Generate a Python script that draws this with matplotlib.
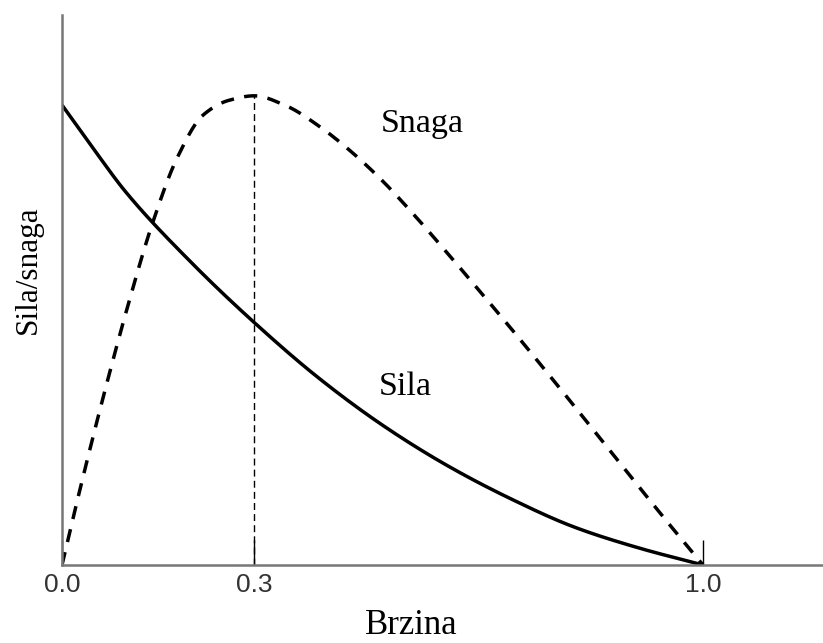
import matplotlib
matplotlib.use('Agg')
import matplotlib.pyplot as plt
import numpy as np

# brzina (v/vmax)
brzina = [0.0, 0.02, 0.04, 0.06, 0.08, 0.10, 0.14, 0.18, 0.22, 0.26, 0.30,
          0.35, 0.40, 0.45, 0.50, 0.55, 0.60, 0.65, 0.70, 0.75, 0.80,
          0.85, 0.90, 0.95, 1.0]
snaga = [0.0, 0.118, 0.232, 0.342, 0.448, 0.55, 0.738, 0.886, 0.978, 1.01, 1.02,
         0.998, 0.955, 0.900, 0.835, 0.760, 0.680, 0.598, 0.515, 0.430, 0.344,
         0.257, 0.170, 0.084, 0.0]

brzina_sila = [0.0, 0.05, 0.10, 0.20, 0.30, 0.40, 0.50, 0.60, 0.70,
               0.80, 0.90, 1.0]
sila = [1.0, 0.903, 0.81, 0.66, 0.527, 0.407, 0.304, 0.217, 0.144,
        0.082, 0.037, 0.0]

v_opt = 0.3
snaga_max = 1.02
xticks = [0.0, 0.3, 1.0]
xtick_labels = ['0.0', '0.3', '1.0']


def pchip(x, y, n=400):
    # monotone cubic through the read points, only to draw a smooth line
    x = np.asarray(x, float)
    y = np.asarray(y, float)
    h = np.diff(x)
    d = np.diff(y) / h
    m = np.zeros_like(y)
    m[0], m[-1] = d[0], d[-1]
    for k in range(1, len(x) - 1):
        if d[k - 1] * d[k] > 0:
            w1 = 2 * h[k] + h[k - 1]
            w2 = h[k] + 2 * h[k - 1]
            m[k] = (w1 + w2) / (w1 / d[k - 1] + w2 / d[k])
    xs = np.linspace(x[0], x[-1], n)
    i = np.clip(np.searchsorted(x, xs) - 1, 0, len(x) - 2)
    t = (xs - x[i]) / h[i]
    h00 = 2 * t**3 - 3 * t**2 + 1
    h10 = t**3 - 2 * t**2 + t
    h01 = -2 * t**3 + 3 * t**2
    h11 = t**3 - t**2
    ys = h00 * y[i] + h10 * h[i] * m[i] + h01 * y[i + 1] + h11 * h[i] * m[i + 1]
    return xs, ys


fig = plt.figure(figsize=(8.23, 6.43), dpi=100)
ax = fig.add_axes([62 / 823, 78 / 643, 761 / 823, 550 / 643])

sx, sy = pchip(brzina_sila, sila)
ax.plot(sx, sy, color='black', lw=2.5, solid_capstyle='butt')
px, py = pchip(brzina, snaga)
ax.plot(px, py, color='black', lw=2.5, dashes=(3.8, 3.0))
ax.plot([v_opt, v_opt], [0, snaga_max], color='black', lw=1.0, dashes=(5, 3))

ax.set_xlim(0, 761 / 641)
ax.set_ylim(0, 550 / 460)

for side in ['top', 'right']:
    ax.spines[side].set_visible(False)
ax.spines['left'].set_color('#777777')
ax.spines['left'].set_linewidth(1.8)
ax.spines['bottom'].set_color('#777777')
ax.spines['bottom'].set_linewidth(1.8)

ax.set_yticks([])
ax.set_xticks(xticks)
ax.set_xticklabels(xtick_labels, family='Liberation Sans', color='#333333')
ax.tick_params(axis='x', direction='in', length=18, width=1, color='black',
               labelsize=19, pad=6)

ax.set_xlabel('Brzina', family='Liberation Serif', fontsize=25)
ax.xaxis.label.set_va('baseline')
ax.xaxis.set_label_coords((411 - 62) / 761, (565 - 634) / 550)
ax.set_ylabel('Sila/snaga', family='Liberation Serif', fontsize=22.5)
ax.yaxis.label.set_va('center')
ax.yaxis.set_label_coords((28 - 62) / 761, (565 - 270) / 550)

ax.text(0.562, 0.941, 'Snaga', family='Liberation Serif', fontsize=24.5,
        ha='center', va='baseline')
ax.text(0.535, 0.37, 'Sila', family='Liberation Serif', fontsize=24.5,
        ha='center', va='baseline')

fig.savefig('out.png', dpi=100)
